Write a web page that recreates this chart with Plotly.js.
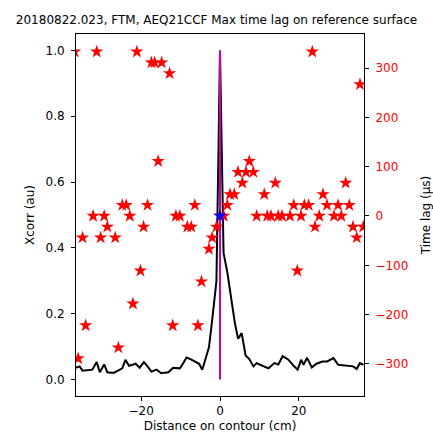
<!DOCTYPE html>
<html>
<head>
<meta charset="utf-8">
<script src="https://cdn.plot.ly/plotly-3.0.1.min.js"></script>
<style>html,body{margin:0;padding:0;background:#fff;}#chart{width:433px;height:433px;}</style>
</head>
<body>
<div id="chart"></div>
<script>
// Cross-correlation (left axis) along the contour
const lineDistance = [-36.9,-35.6,-34.9,-34.0,-33.1,-32.4,-31.3,-30.5,-29.4,-28.6,-27.7,-26.9,-25.9,-24.8,-24.0,-23.1,-22.2,-21.4,-20.4,-19.3,-18.4,-17.4,-16.1,-14.9,-14.0,-13.1,-11.9,-11.0,-10.2,-9.3,-8.5,-7.5,-6.5,-5.3,-4.5,-3.6,-2.8,-1.9,-0.9,0.0,0.9,1.8,3.0,3.8,4.6,5.5,6.5,7.4,8.5,9.3,10.2,11.0,12.3,13.8,14.8,15.9,17.3,18.6,19.7,20.6,21.2,22.1,23.3,24.5,26.0,27.2,28.8,30.0,32.2,33.8,34.7,35.5,36.4];
const xcorr = [0.035,0.040,0.027,0.028,0.029,0.030,0.053,0.022,0.046,0.022,0.021,0.021,0.027,0.034,0.060,0.042,0.045,0.048,0.036,0.053,0.040,0.024,0.030,0.019,0.021,0.022,0.036,0.035,0.034,0.050,0.067,0.062,0.056,0.048,0.030,0.065,0.098,0.19,0.30,1.0,0.385,0.33,0.23,0.17,0.124,0.141,0.073,0.063,0.040,0.050,0.045,0.040,0.034,0.050,0.046,0.071,0.061,0.043,0.030,0.060,0.045,0.066,0.037,0.048,0.055,0.055,0.065,0.045,0.043,0.040,0.032,0.050,0.045];

// Time lag at max (right axis)
const lagDistance = [-36.9,-36.0,-34.9,-34.1,-32.2,-31.3,-30.3,-29.4,-28.6,-26.6,-25.8,-24.8,-23.8,-22.9,-22.1,-21.1,-20.2,-19.4,-18.4,-17.4,-16.6,-15.7,-14.8,-12.8,-12.0,-11.2,-10.2,-8.3,-7.3,-6.4,-5.6,-4.7,-2.8,-2.0,-0.9,0.0,0.94,1.85,2.54,3.63,4.57,5.66,6.60,7.44,8.45,9.31,11.24,12.0,12.94,14.04,14.80,15.74,17.77,18.71,19.62,20.56,21.40,22.51,23.43,24.11,25.20,26.14,27.16,28.93,29.95,30.79,31.90,32.82,33.76,34.70,35.53,36.37];
const timeLag = [333,-289,-44,-222,0,333,-44,0,-22,-44,-267,22,22,0,-178,333,-111,-22,22,311,311,111,311,289,-222,0,0,-22,-22,22,-222,-133,-67,-44,-22,0,0,22,44,44,89,67,89,111,89,0,44,0,0,67,0,0,0,22,-111,0,22,22,333,-22,0,44,22,0,22,0,67,22,-22,-44,267,-22];

// Position of the max and its lag
const peakDistance = [0];
const peakLag = [0];
const peakSpan = [0, 1];

const font = {family: 'DejaVu Sans, sans-serif', size: 12, color: '#000'};

const traces = [
  {x: lineDistance, y: xcorr, type: 'scatter', mode: 'lines',
   line: {color: '#000', width: 2}, xaxis: 'x', yaxis: 'y', hoverinfo: 'skip'},
  {x: [peakDistance[0], peakDistance[0]], y: peakSpan, type: 'scatter', mode: 'lines',
   line: {color: '#bf00bf', width: 2}, xaxis: 'x', yaxis: 'y'},
  {x: lagDistance, y: timeLag, type: 'scatter', mode: 'markers',
   marker: {symbol: 'star', color: '#ff0000', size: 10, line: {width: 0}}, xaxis: 'x', yaxis: 'y2', cliponaxis: true},
  {x: peakDistance, y: peakLag, type: 'scatter', mode: 'markers',
   marker: {symbol: 'star', color: '#0000ff', size: 10, line: {width: 0}}, xaxis: 'x', yaxis: 'y2'}
];

const layout = {
  width: 433, height: 433,
  margin: {l: 76, r: 69, t: 34, b: 37, pad: 0},
  paper_bgcolor: '#fff', plot_bgcolor: '#fff',
  showlegend: false,
  font: font,
  title: {text: '20180822.023, FTM, AEQ21CCF Max time lag on reference surface',
          x: 0.5, xanchor: 'center', y: 1 - 20/433, yanchor: 'middle', font: {family: font.family, size: 12, color: '#000'}},
  xaxis: {range: [-36.55, 36.55], tickvals: [-20, 0, 20], ticks: 'outside', ticklen: 4, tickcolor: '#000',
          showline: true, linecolor: '#000', linewidth: 1, mirror: true, showgrid: false, zeroline: false,
          title: {text: 'Distance on contour (cm)', standoff: 5, font: font}, tickfont: font},
  yaxis: {range: [-0.05, 1.05], tickvals: [0, 0.2, 0.4, 0.6, 0.8, 1.0], tickformat: '.1f', ticks: 'outside', ticklen: 4, tickcolor: '#000',
          showline: true, linecolor: '#000', linewidth: 1, showgrid: false, zeroline: false, ticklabelstandoff: 4,
          title: {text: 'Xcorr (au)', standoff: 8, font: font}, tickfont: font},
  yaxis2: {range: [-365, 369], overlaying: 'y', side: 'right', tickvals: [-300, -200, -100, 0, 100, 200, 300],
           ticks: 'outside', ticklen: 4, tickcolor: '#000', showline: true, linecolor: '#000', linewidth: 1,
           showgrid: false, zeroline: false, ticklabelstandoff: 4,
           title: {text: 'Time lag (μs)', standoff: 15, font: font}, tickfont: {family: font.family, size: 12, color: '#ff0000'}}
};

Plotly.newPlot('chart', traces, layout, {displayModeBar: false, staticPlot: true});
</script>
</body>
</html>
